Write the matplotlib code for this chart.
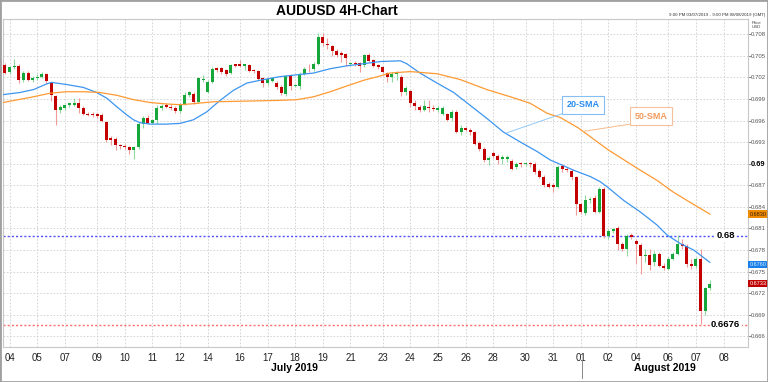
import matplotlib
matplotlib.use("Agg")
import matplotlib.pyplot as plt
from matplotlib.patches import Rectangle
from matplotlib.lines import Line2D
from matplotlib.transforms import blended_transform_factory

plt.rcParams['font.family'] = ['Liberation Sans', 'DejaVu Sans']

# 4H candles, 3 Jul 2019 21:00 -> 7 Aug 2019
opens = [
    .7037, .7027, .7034, .7036, .7017, .7026, .7017, .7019, .7021, .7024,
    .7012, .6994, .6974, .6977, .6981, .6982, .6984, .6978, .6969, .6969,
    .6969, .6968, .6958, .6936, .6935, .6926, .6925, .6923, .6919, .6923,
    .6955, .6964, .6957, .6961, .6977, .6981, .6979, .6977, .6973, .6983,
    .6996, .6997, .6986, .7017, .7000, .7014, .7033, .7033, .7030, .7026,
    .7038, .7038, .7036, .7037, .7030, .7029, .7019, .7012, .7015, .7012,
    .7007, .6997, .7022, .7008, .7008, .7025, .7032, .7031, .7039, .7076,
    .7067, .7063, .7057, .7054, .7052, .7038, .7040, .7040, .7037, .7051,
    .7044, .7037, .7034, .7026, .7021, .7024, .7021, .6999, .7001, .6984,
    .6979, .6975, .6979, .6978, .6975, .6969, .6969, .6963, .6972, .6944,
    .6949, .6947, .6944, .6929, .6921, .6905, .6915, .6911, .6906, .6906,
    .6904, .6895, .6901, .6899, .6901, .6900, .6890, .6882, .6872, .6871,
    .6868, .6897, .6893, .6890, .6881, .6844, .6832, .6849, .6852, .6833,
    .6865, .6800, .6807, .6810, .6789, .6781, .6801, .6793, .6787, .6772,
    .6773, .6764, .6774, .6758, .6754, .6768, .6775, .6789, .6785, .6760,
    .6758, .6768, .6695, .6727]
highs = [
    .7040, .7036, .7046, .7038, .7029, .7029, .7022, .7025, .7028, .7026,
    .7014, .6996, .6981, .6983, .6985, .6991, .6991, .6980, .6972, .6972,
    .6971, .6970, .6960, .6939, .6937, .6928, .6927, .6925, .6924, .6958,
    .6966, .6967, .6962, .6981, .6983, .6984, .6983, .6980, .6985, .6999,
    .7001, .6999, .7021, .7023, .7016, .7034, .7035, .7035, .7032, .7038,
    .7039, .7044, .7039, .7039, .7032, .7030, .7020, .7019, .7021, .7015,
    .7009, .7023, .7024, .7011, .7027, .7035, .7039, .7041, .7081, .7082,
    .7075, .7065, .7059, .7056, .7054, .7042, .7043, .7042, .7053, .7054,
    .7046, .7039, .7036, .7028, .7028, .7029, .7023, .7008, .7003, .6988,
    .6981, .6988, .6989, .6981, .6980, .6980, .6971, .6974, .6974, .6954,
    .6951, .6949, .6946, .6931, .6923, .6910, .6917, .6913, .6912, .6912,
    .6907, .6903, .6903, .6903, .6903, .6902, .6892, .6884, .6874, .6873,
    .6898, .6900, .6895, .6892, .6883, .6846, .6856, .6853, .6856, .6867,
    .6867, .6809, .6811, .6813, .6791, .6802, .6803, .6795, .6790, .6782,
    .6782, .6778, .6777, .6762, .6770, .6777, .6801, .6795, .6788, .6768,
    .6770, .6781, .6728, .6738]
lows = [
    .7024, .7024, .7031, .7012, .7013, .7015, .7014, .7016, .7019, .7012,
    .6987, .6954, .6971, .6974, .6979, .6980, .6970, .6968, .6966, .6965,
    .6963, .6958, .6930, .6926, .6919, .6921, .6920, .6914, .6907, .6921,
    .6950, .6955, .6955, .6955, .6975, .6977, .6975, .6970, .6971, .6981,
    .6993, .6983, .6984, .7014, .6998, .7012, .7028, .7025, .7022, .7024,
    .7035, .7034, .7030, .7027, .7026, .7016, .7007, .7010, .7013, .7004,
    .6996, .6994, .7003, .7006, .7004, .7023, .7027, .7029, .7037, .7064,
    .7060, .7049, .7048, .7042, .7036, .7036, .7036, .7028, .7035, .7041,
    .7034, .7032, .7026, .7014, .7013, .7017, .6994, .6996, .6979, .6974,
    .6972, .6973, .6972, .6973, .6972, .6967, .6960, .6960, .6942, .6940,
    .6945, .6940, .6926, .6918, .6903, .6898, .6908, .6900, .6900, .6902,
    .6891, .6893, .6895, .6897, .6896, .6886, .6880, .6867, .6866, .6861,
    .6866, .6888, .6889, .6878, .6829, .6830, .6829, .6846, .6832, .6831,
    .6797, .6795, .6803, .6780, .6778, .6771, .6796, .6761, .6746, .6763,
    .6752, .6758, .6756, .6752, .6752, .6766, .6773, .6782, .6757, .6754,
    .6755, .6677, .6690, .6724]
closes = [
    .7026, .7034, .7036, .7017, .7026, .7017, .7019, .7021, .7025, .7015,
    .6996, .6974, .6979, .6981, .6984, .6985, .6978, .6969, .6967, .6967,
    .6966, .6960, .6933, .6933, .6926, .6924, .6923, .6919, .6923, .6955,
    .6964, .6956, .6961, .6978, .6980, .6979, .6977, .6973, .6983, .6996,
    .6999, .6986, .7019, .7018, .7014, .7032, .7030, .7028, .7024, .7037,
    .7036, .7036, .7038, .7029, .7029, .7018, .7012, .7018, .7019, .7007,
    .6998, .7022, .7008, .7009, .7025, .7032, .7031, .7039, .7076, .7068,
    .7065, .7056, .7051, .7051, .7047, .7040, .7038, .7036, .7051, .7043,
    .7036, .7034, .7028, .7021, .7025, .7026, .7000, .7005, .6984, .6980,
    .6974, .6980, .6977, .6976, .6978, .6978, .6961, .6972, .6944, .6950,
    .6947, .6944, .6928, .6920, .6905, .6908, .6910, .6905, .6909, .6909,
    .6893, .6900, .6899, .6901, .6899, .6889, .6882, .6870, .6868, .6867,
    .6896, .6892, .6891, .6881, .6844, .6833, .6849, .6851, .6833, .6865,
    .6800, .6807, .6809, .6789, .6782, .6799, .6798, .6789, .6771, .6773,
    .6759, .6774, .6758, .6755, .6767, .6775, .6789, .6786, .6760, .6758,
    .6767, .6695, .6727, .6733]

# moving averages (candle index, price)
sma20_x = [-0.4, 3.3, 6.2, 9.1, 10.1, 13.4, 17, 19.9, 22.1, 24.3, 26.4, 27.9, 29.3,
           31.5, 35.1, 38, 40.9, 43.8, 46.7, 49.6, 52.5, 55.4, 59.7, 62.6, 67, 70.6,
           74.2, 77.9, 81.5, 85.8, 87.2, 90.1, 93.8, 97.4, 101, 104.6, 108.2, 111.9,
           115.5, 118.4, 120.6, 123.4, 127.1, 129.2, 130.7, 134.3, 137.9, 141.5,
           143.7, 146.6, 149.5, 153]
sma20_y = [.6996, .6999, .7003, .7011, .7013, .7010, .7006, .6999, .6991, .6979, .6968,
           .6961, .6957, .6955, .6955, .6956, .6961, .6972, .6988, .7002, .7012, .7016,
           .7021, .7023, .7026, .7032, .7036, .7039, .7042, .7043, .7039, .7026, .7012,
           .6999, .6981, .6963, .6944, .6930, .6917, .6905, .6899, .6891, .6882, .6875,
           .6868, .6849, .6833, .6815, .6801, .6789, .6780, .6763]
sma50_x = [-0.4, 6.2, 9.8, 13.4, 17, 20.6, 24.3, 27.9, 31.5, 35.1, 38, 40.2, 45.2,
           52.5, 59.7, 63.4, 67, 70.6, 74.2, 77.9, 81.5, 83.6, 88, 93.8, 98.8, 104.6,
           109.7, 114, 117.7, 120.6, 124.4, 131, 137.9, 141.5, 145.2, 148.8, 153]
sma50_y = [.6985, .6993, .6998, .7000, .7000, .6999, .6995, .6989, .6985, .6983, .6982,
           .6983, .6986, .6987, .6988, .6989, .6993, .7000, .7008, .7016, .7022, .7026,
           .7028, .7025, .7017, .7003, .6993, .6984, .6970, .6964, .6950, .6919, .6891,
           .6877, .6860, .6846, .6830]

day_idx = [1, 7, 13, 20, 26, 32, 38, 44, 51, 57, 63, 69, 75, 82, 88, 94, 100, 106,
           113, 119, 125, 131, 137, 144, 150, 156]
day_labels = ['04', '05', '07', '09', '10', '11', '12', '14', '16', '17', '18', '19',
              '21', '23', '24', '25', '26', '28', '30', '31', '01', '02', '04', '06',
              '07', '08']
price_ticks = [0.666, 0.669, 0.672, 0.675, 0.678, 0.681, 0.684, 0.687, 0.690,
               0.693, 0.696, 0.699, 0.702, 0.705, 0.708]
support = 0.6676
resistance = 0.68
last_vals = [0.6830, 0.6760, 0.6733]
last_cols = ['#f08a00', '#1a7fe8', '#c00000']
last_txt = ['#3a2000', '#d8ecff', 'white']

W, H = 768, 382
fig = plt.figure(figsize=(W / 100, H / 100), dpi=100)
ax = fig.add_axes([3 / W, 1 - 347 / H, (748 - 3) / W, (347 - 19) / H])

# candles
xs = list(range(len(opens)))
up = [c >= o for o, c in zip(opens, closes)]
wick_c = ['#8fd8a0' if u else '#f29a9a' for u in up]
body_c = ['#17a63a' if u else '#c20000' for u in up]
ax.vlines(xs, lows, highs, colors=wick_c, lw=0.8, zorder=3)
bottoms = [min(o, c) for o, c in zip(opens, closes)]
heights = [max(abs(c - o), 0.00012) for o, c in zip(opens, closes)]
ax.bar(xs, heights, 0.65, bottom=bottoms, color=body_c, linewidth=0, zorder=4)

ax.plot(sma20_x, sma20_y, color='#3d95f0', lw=0.9, zorder=5)
ax.plot(sma50_x, sma50_y, color='#ff9a33', lw=0.9, zorder=5)

# support / resistance
btr = blended_transform_factory(ax.transAxes, ax.transData)
ax.axhline(resistance, color='#5050ff', lw=1, linestyle=(0, (1.5, 1.5)), zorder=2)
ax.axhline(support, color='#ff6a6a', lw=1, linestyle=(0, (1.5, 1.5)), zorder=2)
ax.text(0.970, resistance, '0.68', transform=btr,
        ha='center', va='center', fontsize=6.8, fontweight='bold', zorder=6,
        bbox=dict(boxstyle='square,pad=0.15', fc='white', ec='none'))
ax.text(0.970, support, '0.6676', transform=btr,
        ha='center', va='center', fontsize=6.8, fontweight='bold', zorder=6,
        bbox=dict(boxstyle='square,pad=0.15', fc='white', ec='none'))

# SMA tags
ax.plot([109, 121.2], [0.6943, 0.6970], color='#92c8f8', lw=0.7, zorder=5)
ax.text(125.5, 0.6982, '20-SMA', ha='center', va='center', fontsize=6.5, fontweight='bold',
        color='#2b8cf0', zorder=6,
        bbox=dict(boxstyle='square,pad=0.5', fc='white', ec='#86bff5', lw=0.8))
ax.plot([125.7, 135.7], [0.6945, 0.6955], color='#f8b98a', lw=0.7, zorder=5)
ax.text(140.3, 0.6966, '50-SMA', ha='center', va='center', fontsize=6.5, fontweight='bold',
        color='#f39a5c', zorder=6,
        bbox=dict(boxstyle='square,pad=0.5', fc='white', ec='#f7c09c', lw=0.8))

ax.set_xlim(-0.43, 161.3)
ax.set_ylim(0.66452, 0.71011)

ax.set_xticks(day_idx)
ax.set_xticklabels(day_labels)
ax.tick_params(axis='x', length=0, pad=4, labelsize=7, colors='#222')

ax.yaxis.tick_right()
ax.set_yticks(price_ticks)
ylabs = ['0.69' if abs(v - 0.69) < 1e-9 else '%.3f' % v for v in price_ticks]
ax.set_yticklabels(ylabs)
ax.tick_params(axis='y', length=1.8, width=0.6, pad=0.3, labelsize=4.3, colors='#777')
for t, v in zip(ax.get_yticklabels(), price_ticks):
    t.set_color('#555')
    if abs(v - 0.69) < 1e-9:
        t.set_fontweight('bold')
        t.set_fontsize(5.4)
        t.set_color('black')

ax.grid(True, color='#cfcfcf', linestyle=(0, (2, 2)), lw=0.6)
ax.set_axisbelow(True)
for s in ax.spines.values():
    s.set_color('#c8c8c8')
    s.set_linewidth(0.8)

for v, c, tc in zip(last_vals, last_cols, last_txt):
    ax.text(1.002, v, '%.4f' % v, transform=btr, ha='left', va='center', fontsize=4.0,
            color=tc, zorder=7, clip_on=False,
            bbox=dict(boxstyle='square,pad=0.2', fc=c, ec='none'))

# titles and labels
fig.text(337 / W, 1 - 11 / H, 'AUDUSD 4H-Chart', ha='center', va='center',
         fontsize=10, fontweight='bold')
fig.text(765 / W, 1 - 15 / H, '9:00 PM 03/07/2019 - 9:00 PM 08/08/2019 (GMT)',
         ha='right', va='center', fontsize=3.2, color='#333')
fig.text(752 / W, 1 - 25 / H, 'Price\nUSD', ha='left', va='center', fontsize=3.2,
         color='#444', linespacing=1.3)
fig.text(294 / W, 1 - 368 / H, 'July 2019', ha='center', va='center', fontsize=7.5,
         fontweight='bold')
fig.text(665 / W, 1 - 368 / H, 'August 2019', ha='center', va='center', fontsize=7.5,
         fontweight='bold')
fig.add_artist(Line2D([582 / W, 582 / W], [1 - 360 / H, 1 - 378 / H],
                      transform=fig.transFigure, color='#888', lw=0.7))
fig.add_artist(Rectangle((0, 0), 1, 1, transform=fig.transFigure, fill=False,
                         ec='#a0a0a0', lw=2))

fig.savefig('out.png', dpi=100)
